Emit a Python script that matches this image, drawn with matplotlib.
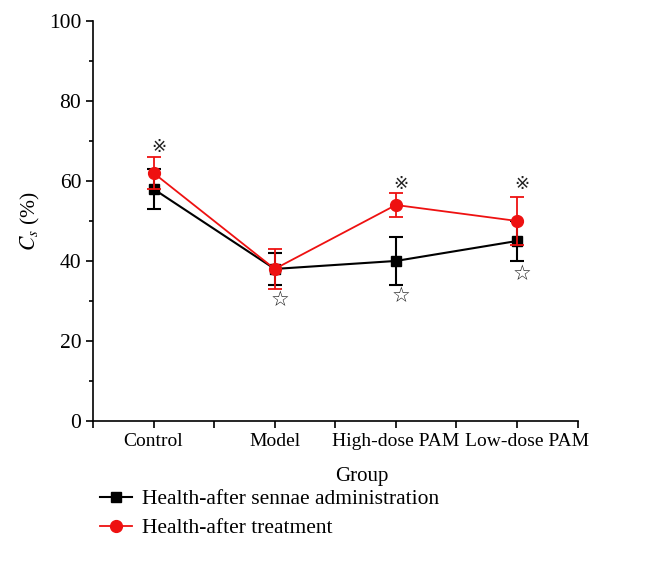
import matplotlib
matplotlib.use("Agg")
import matplotlib.pyplot as plt
import matplotlib.transforms as mtransforms
from matplotlib.lines import Line2D
import numpy as np

plt.rcParams["font.family"] = ["Liberation Serif", "DejaVu Serif"]
plt.rcParams["mathtext.fontset"] = "stix"

groups = ["Control", "Model", "High-dose PAM", "Low-dose PAM"]
sennae = [58, 38, 40, 45]
sennae_err = [5, 4, 6, 5]
treat = [62, 38, 54, 50]
treat_err = [4, 5, 3, 6]
# significance marks: (group index, y value, symbol)
marks = [(0, 68.5, "\u203b"), (1, 30.2, "\u2606"), (2, 59.3, "\u203b"),
         (2, 31.3, "\u2606"), (3, 59.3, "\u203b"), (3, 36.6, "\u2606")]

fig = plt.figure(figsize=(6.64, 5.71), dpi=100)
ax = fig.add_axes([0.140, 0.263, 0.730, 0.700])

x = np.arange(1, len(groups) + 1)
ax.errorbar(x, sennae, yerr=sennae_err, color="black", marker="s", ms=7,
            lw=1.5, capsize=5, capthick=1.5, elinewidth=1.5, zorder=3)
ax.errorbar(x, treat, yerr=treat_err, color="#ee1111", marker="o", ms=8.5,
            lw=1.3, capsize=5, capthick=1.3, elinewidth=1.3, zorder=4)

for i, y, s in marks:
    fs = 15 if s == "\u2606" else 13
    ax.text(x[i] + 0.04, y, s, ha="center", va="center", fontsize=fs,
            family=["DejaVu Sans"], color="#222222")

ax.set_xlim(0.5, 4.5)
ax.set_ylim(0, 100)
ticks = np.arange(0.5, 4.51, 0.5)
ax.set_xticks(ticks)
ax.set_xticklabels([groups[int(t) - 1] if t == int(t) else "" for t in ticks])
ax.set_yticks(np.arange(0, 101, 20))
ax.set_yticks(np.arange(10, 100, 20), minor=True)
ax.tick_params(axis="x", labelsize=14, width=1.2, length=5)
ax.tick_params(axis="y", labelsize=15.5, width=1.2, length=5)
ax.tick_params(axis="y", which="minor", width=1.2, length=3)
for side in ("top", "right"):
    ax.spines[side].set_visible(False)
for side in ("left", "bottom"):
    ax.spines[side].set_linewidth(1.2)

# last category label sits a little right of its tick, as in the original
shift = mtransforms.ScaledTranslation(10 / 100, 0, fig.dpi_scale_trans)
last = ax.get_xticklabels()[-2]
last.set_transform(last.get_transform() + shift)

ax.set_xlabel("Group", fontsize=15)
ax.xaxis.set_label_coords(0.555, -0.115)
ax.set_ylabel("$C_s$ (%)", fontsize=15.5)
ax.yaxis.set_label_coords(-0.105, 0.5)

handles = [
    Line2D([], [], color="black", marker="s", ms=7, lw=1.5),
    Line2D([], [], color="#ee1111", marker="o", ms=8.5, lw=1.3),
]
labels = ["Health-after sennae administration", "Health-after treatment"]
fig.legend(handles, labels, loc="upper left", bbox_to_anchor=(0.15, 0.143),
           frameon=False, fontsize=15.5, handlelength=1.5, handletextpad=0.47,
           labelspacing=0.4, borderaxespad=0, borderpad=0)

fig.savefig("out.png", dpi=100)
